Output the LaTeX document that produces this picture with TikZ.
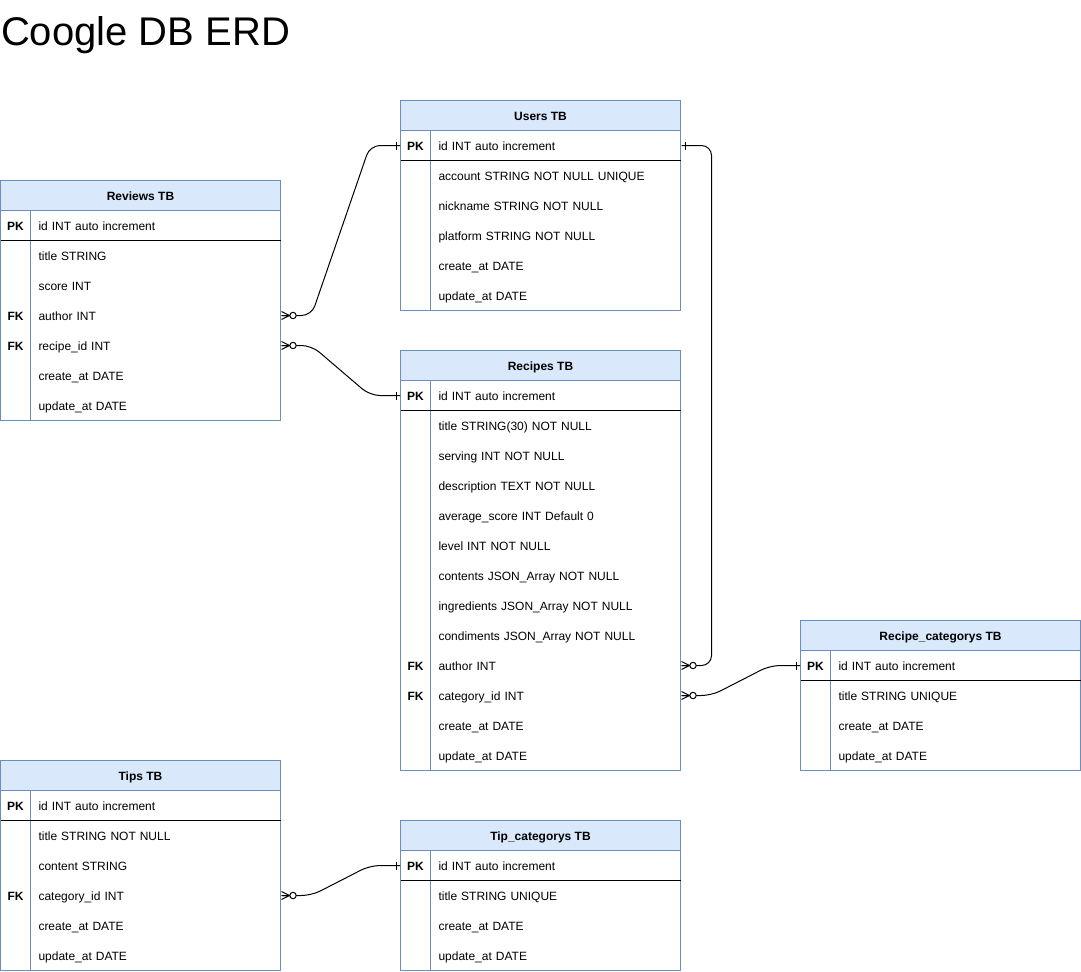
\documentclass[tikz,border=0pt]{standalone}
\usepackage{fontspec}
\setmainfont{Liberation Sans}
\usepackage{tikz}
\usetikzlibrary{calc}
\definecolor{tbfill}{HTML}{DAE8FC}
\definecolor{tbline}{HTML}{6C8EBF}
\tikzset{%
	tbhead/.style={
		draw=tbline,
		fill=tbfill,
		minimum width=210pt,
		minimum height=22.5pt,
		inner sep=0pt,
		text height=7.75pt,
		text depth=0.25pt,
		font=\fontsize{9}{11}\selectfont\bfseries
	},
	keycell/.style={
		minimum width=22.5pt,
		minimum height=22.5pt,
		inner sep=0pt,
		text height=7.75pt,
		text depth=0.25pt,
		font=\fontsize{9}{11}\selectfont\bfseries
	},
	field/.style={
		anchor=west,
		text width=176.25pt,
		inner xsep=5.625pt,
		inner ysep=0pt,
		minimum height=22.5pt,
		text height=7.75pt,
		text depth=0.25pt,
		font=\fontsize{9}{11}\selectfont
	},
	conn/.style={
		rounded corners=7.5pt
	},
	zmany/.pic={
		\draw (0,-4) -- (8,0) -- (0,4) (0,0) -- (8,0);
		\draw[fill=white] (11.5,0) circle[radius=2.4pt];
	},
	onebar/.pic={
		\draw (4,-4) -- (4,4);
	},
}

\begin{document}
\begin{tikzpicture}[x=0.75pt, y=-0.75pt, line width=0.75pt]
	\useasboundingbox (-0.5,-0.5) rectangle (1080.5,970.5);
	
	\node[anchor=base west, inner sep=0pt, font=\fontsize{30}{36}\selectfont] (title) at (0,44.5) {Coogle DB ERD};
	
	\node[tbhead] (rv) at (140,195) {Reviews TB};
	\draw[tbline] (0,210) rectangle (280,420);
	\draw[tbline] (30,210) -- (30,420);
	\draw (0,240) -- (280,240);
	\node[keycell] (rvpk) at (15,225) {PK};
	\node[field] (rvid) at (30,225) {id INT auto increment};
	\node[field] (rvtitle) at (30,255) {title STRING};
	\node[field] (rvscore) at (30,285) {score INT};
	\node[keycell] (rvfk1) at (15,315) {FK};
	\node[field] (rvauthor) at (30,315) {author INT};
	\node[keycell] (rvfk2) at (15,345) {FK};
	\node[field] (rvrecipe) at (30,345) {recipe\_id INT};
	\node[field] (rvcreate) at (30,375) {create\_at DATE};
	\node[field] (rvupdate) at (30,405) {update\_at DATE};
	
	\node[tbhead] (us) at (540,115) {Users TB};
	\draw[tbline] (400,130) rectangle (680,310);
	\draw[tbline] (430,130) -- (430,310);
	\draw (400,160) -- (680,160);
	\node[keycell] (uspk) at (415,145) {PK};
	\node[field] (usid) at (430,145) {id INT auto increment};
	\node[field] (usaccount) at (430,175) {account STRING NOT NULL UNIQUE};
	\node[field] (usnick) at (430,205) {nickname STRING NOT NULL};
	\node[field] (usplatform) at (430,235) {platform STRING NOT NULL};
	\node[field] (uscreate) at (430,265) {create\_at DATE};
	\node[field] (usupdate) at (430,295) {update\_at DATE};
	
	\node[tbhead] (rc) at (540,365) {Recipes TB};
	\draw[tbline] (400,380) rectangle (680,770);
	\draw[tbline] (430,380) -- (430,770);
	\draw (400,410) -- (680,410);
	\node[keycell] (rcpk) at (415,395) {PK};
	\node[field] (rcid) at (430,395) {id INT auto increment};
	\node[field] (rctitle) at (430,425) {title STRING(30) NOT NULL};
	\node[field] (rcserving) at (430,455) {serving INT NOT NULL};
	\node[field] (rcdesc) at (430,485) {description TEXT NOT NULL};
	\node[field] (rcavg) at (430,515) {average\_score INT Default 0};
	\node[field] (rclevel) at (430,545) {level INT NOT NULL};
	\node[field] (rccontents) at (430,575) {contents JSON\_Array NOT NULL};
	\node[field] (rcingred) at (430,605) {ingredients JSON\_Array NOT NULL};
	\node[field] (rccondim) at (430,635) {condiments JSON\_Array NOT NULL};
	\node[keycell] (rcfk1) at (415,665) {FK};
	\node[field] (rcauthor) at (430,665) {author INT};
	\node[keycell] (rcfk2) at (415,695) {FK};
	\node[field] (rccategory) at (430,695) {category\_id INT};
	\node[field] (rccreate) at (430,725) {create\_at DATE};
	\node[field] (rcupdate) at (430,755) {update\_at DATE};
	
	\node[tbhead] (rk) at (940,635) {Recipe\_categorys TB};
	\draw[tbline] (800,650) rectangle (1080,770);
	\draw[tbline] (830,650) -- (830,770);
	\draw (800,680) -- (1080,680);
	\node[keycell] (rkpk) at (815,665) {PK};
	\node[field] (rkid) at (830,665) {id INT auto increment};
	\node[field] (rktitle) at (830,695) {title STRING UNIQUE};
	\node[field] (rkcreate) at (830,725) {create\_at DATE};
	\node[field] (rkupdate) at (830,755) {update\_at DATE};
	
	\node[tbhead] (tp) at (140,775) {Tips TB};
	\draw[tbline] (0,790) rectangle (280,970);
	\draw[tbline] (30,790) -- (30,970);
	\draw (0,820) -- (280,820);
	\node[keycell] (tppk) at (15,805) {PK};
	\node[field] (tpid) at (30,805) {id INT auto increment};
	\node[field] (tptitle) at (30,835) {title STRING NOT NULL};
	\node[field] (tpcontent) at (30,865) {content STRING};
	\node[keycell] (tpfk) at (15,895) {FK};
	\node[field] (tpcategory) at (30,895) {category\_id INT};
	\node[field] (tpcreate) at (30,925) {create\_at DATE};
	\node[field] (tpupdate) at (30,955) {update\_at DATE};
	
	\node[tbhead] (tk) at (540,835) {Tip\_categorys TB};
	\draw[tbline] (400,850) rectangle (680,970);
	\draw[tbline] (430,850) -- (430,970);
	\draw (400,880) -- (680,880);
	\node[keycell] (tkpk) at (415,865) {PK};
	\node[field] (tkid) at (430,865) {id INT auto increment};
	\node[field] (tktitle) at (430,895) {title STRING UNIQUE};
	\node[field] (tkcreate) at (430,925) {create\_at DATE};
	\node[field] (tkupdate) at (430,955) {update\_at DATE};
	
	\draw[conn] (rvauthor.east) -- ++(30,0) -- ($(uspk.west)+(-30,0)$) -- (uspk.west);
	\pic at (rvauthor.east) {zmany};
	\pic[xscale=-1] at (uspk.west) {onebar};
	
	\draw[conn] (rvrecipe.east) -- ++(30,0) -- ($(rcpk.west)+(-30,0)$) -- (rcpk.west);
	\pic at (rvrecipe.east) {zmany};
	\pic[xscale=-1] at (rcpk.west) {onebar};
	
	\draw[conn] (usid.east) -- ++(30,0) |- (rcauthor.east);
	\pic at (usid.east) {onebar};
	\pic at (rcauthor.east) {zmany};
	
	\draw[conn] (rccategory.east) -- ++(30,0) -- ($(rkpk.west)+(-30,0)$) -- (rkpk.west);
	\pic at (rccategory.east) {zmany};
	\pic[xscale=-1] at (rkpk.west) {onebar};
	
	\draw[conn] (tpcategory.east) -- ++(30,0) -- ($(tkpk.west)+(-30,0)$) -- (tkpk.west);
	\pic at (tpcategory.east) {zmany};
	\pic[xscale=-1] at (tkpk.west) {onebar};
\end{tikzpicture}
\end{document}
